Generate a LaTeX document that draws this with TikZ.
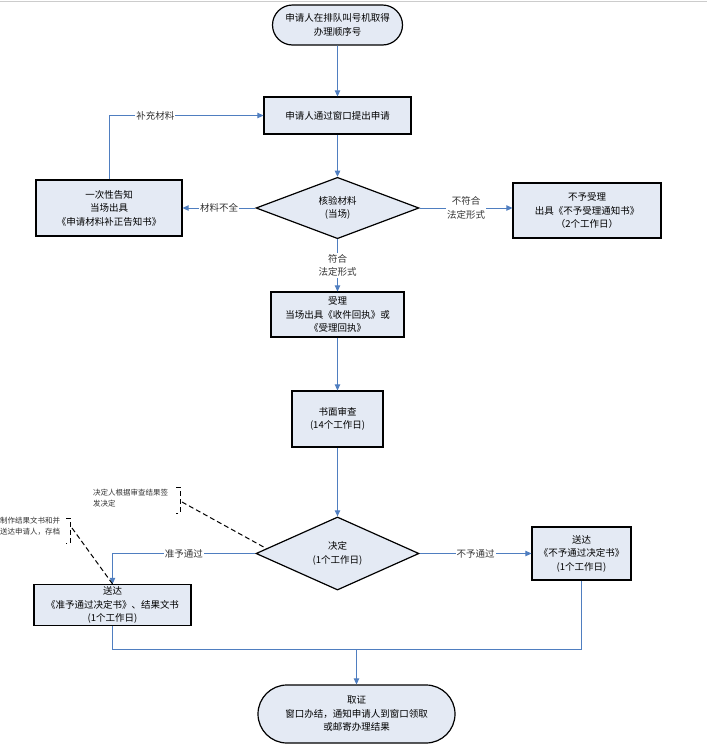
\documentclass[tikz,border=0pt]{standalone}
\usepackage{fontspec}
\setmainfont{Noto Sans CJK SC}
\usetikzlibrary{shapes.geometric,shapes.misc,arrows.meta}
\definecolor{boxfill}{HTML}{E4EAF4}
\definecolor{linkblue}{HTML}{4F7EC0}

\begin{document}
\begin{tikzpicture}[x=1pt, y=-1pt,
	box/.style={draw, line width=1.2pt, fill=boxfill, align=center, inner sep=0pt, font=\fontsize{9.5}{13.5}\selectfont},
	term/.style={box, rounded rectangle},
	dec/.style={box, diamond},
	link/.style={linkblue, line width=0.9pt, -{Triangle[length=6pt,width=5.5pt]}},
	plain/.style={linkblue, line width=0.9pt},
	lab/.style={fill=white, inner sep=1pt, align=center, text=black!80, font=\fontsize{9.5}{13.5}\selectfont},
	note/.style={inner sep=0pt, align=left, text=black!80, font=\fontsize{7.5}{11}\selectfont},
	notedash/.style={dash pattern=on 5pt off 3pt, line width=1pt}
	]
	\useasboundingbox (0,0) rectangle (707,745);
	\draw[black!20, line width=1pt] (0,1.5) -- (707,1.5);
	\node[term, minimum width=130pt, minimum height=40pt] (qhao) at (337.5,25) {申请人在排队叫号机取得\\办理顺序号};
	\node[box, minimum width=147pt, minimum height=37pt] (shenqing) at (337.5,115.5) {申请人通过窗口提出申请};
	\node[dec, minimum width=163pt, minimum height=56pt] (heyan) at (337.5,208) {核验材料\\(当场)};
	\node[box, minimum width=146pt, minimum height=56pt] (buzheng) at (109,208) {一次性告知\\当场出具\\《申请材料补正告知书》};
	\node[box, minimum width=148pt, minimum height=55pt] (bushouli) at (587,210.5) {不予受理\\出具《不予受理通知书》\\（2个工作日）};
	\node[box, minimum width=133pt, minimum height=45pt] (shouli) at (337.5,314.5) {受理\\当场出具《收件回执》或\\《受理回执》};
	\node[box, minimum width=91pt, minimum height=56pt] (shencha) at (337.5,419) {书面审查\\(14个工作日)};
	\node[dec, minimum width=163pt, minimum height=53pt] (jueding) at (337.5,553.5) {决定\\(1个工作日)};
	\node[box, minimum width=157pt, minimum height=41pt] (zhunyu) at (112.5,605) {送达\\《准予通过决定书》、结果文书\\(1个工作日)};
	\node[box, minimum width=99pt, minimum height=53pt] (buyu) at (581.5,553.5) {送达\\《不予通过决定书》\\(1个工作日)};
	\node[term, minimum width=197pt, minimum height=58pt] (quzheng) at (356.5,714) {取证\\窗口办结，通知申请人到窗口领取\\或邮寄办理结果};
	\draw[link] (qhao) -- (shenqing);
	\draw[link] (shenqing) -- (heyan);
	\draw[link] (heyan) -- node[lab] {材料不全} (buzheng);
	\draw[link] (buzheng.north) |- node[lab, pos=0.65] {补充材料} (shenqing.west);
	\draw[link] (heyan.east) -- node[lab] {不符合\\法定形式} (heyan.east -| bushouli.west);
	\draw[link] (heyan) -- node[lab] {符合\\法定形式} (shouli);
	\draw[link] (shouli) -- (shencha);
	\draw[link] (shencha) -- (jueding);
	\draw[link] (jueding.west) -| node[lab, pos=0.25] {准予通过} (zhunyu.north);
	\draw[link] (jueding) -- node[lab] {不予通过} (buyu);
	\coordinate (huizong) at (356.5,649);
	\draw[plain] (zhunyu.south) |- (huizong -| buyu.south) -- (buyu.south);
	\draw[link] (huizong) -- (quzheng);
	\node[note, anchor=north west] (qianfa) at (93,489) {决定人根据审查结果签\\发决定};
	\draw[notedash] (176,487) -- (180,487) -- (180,513) -- (176,513);
	\coordinate (qianfak) at (182,502);
	\draw[notedash] (qianfak) -- (jueding.176);
	\node[note, anchor=north west] (zhizuo) at (0,517) {制作结果文书和并\\送达申请人，存档};
	\draw[notedash] (66,518) -- (70,518) -- (70,543) -- (66,543);
	\coordinate (zhizuok) at (72,528);
	\draw[notedash] (zhizuok) -- (zhunyu.north);
\end{tikzpicture}
\end{document}
